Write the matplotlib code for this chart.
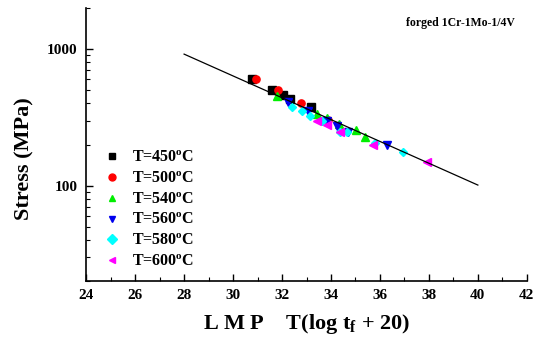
import numpy as np
import matplotlib.pyplot as plt
from matplotlib.ticker import FixedLocator, NullFormatter, MultipleLocator

plt.rcParams['font.family'] = ['Liberation Serif', 'DejaVu Serif']
plt.rcParams['font.weight'] = 'bold'
plt.rcParams['mathtext.fontset'] = 'custom'
plt.rcParams['mathtext.rm'] = 'Liberation Serif:bold'

# LMP / stress data
lmp_450 = [30.78, 31.59, 32.04, 32.33, 33.18]
s_450 = [602, 500, 459, 429, 375]
lmp_500 = [30.94, 31.84, 32.78, 33.88]
s_500 = [602, 500, 401, 301]
lmp_540 = [31.80, 33.43, 33.84, 34.33, 35.02, 35.39]
s_540 = [451, 333, 311, 281, 254, 229]
lmp_560 = [32.24, 33.06, 33.84, 34.24, 34.69, 36.29]
s_560 = [408, 350, 296, 272, 249, 200]
lmp_580 = [32.41, 32.82, 33.14, 33.63, 34.37, 34.65, 35.80, 36.94]
s_580 = [375, 350, 322, 296, 249, 249, 204, 175]
lmp_600 = [33.43, 33.84, 34.37, 35.71, 37.92]
s_600 = [296, 276, 249, 200, 150]

# fit line end points
fit_lmp = [28, 40]
fit_s = [920, 101]

series = [
    (lmp_450, s_450, 's', 'black', 'T=450$^\\mathregular{o}$C'),
    (lmp_500, s_500, 'o', 'red', 'T=500$^\\mathregular{o}$C'),
    (lmp_540, s_540, '^', '#00ee00', 'T=540$^\\mathregular{o}$C'),
    (lmp_560, s_560, 'v', '#0000ee', 'T=560$^\\mathregular{o}$C'),
    (lmp_580, s_580, 'D', '#00ffff', 'T=580$^\\mathregular{o}$C'),
    (lmp_600, s_600, '<', '#ff00ff', 'T=600$^\\mathregular{o}$C'),
]

fig = plt.figure(figsize=(5.42, 3.37), dpi=100)
ax = fig.add_axes([0.159, 0.166, 0.813, 0.81])

ax.plot(fit_lmp, fit_s, color='black', linewidth=0.9, zorder=3)

for x, y, m, c, lab in series:
    ms = 4.2 if m == 'D' else 5.2
    ax.plot(x, y, linestyle='none', marker=m, color=c, markersize=ms,
            label=lab, zorder=2)

ax.set_yscale('log')
ax.set_xlim(24, 42)
ax.set_ylim(20, 2000)
ax.xaxis.set_major_locator(MultipleLocator(2))
ax.xaxis.set_minor_locator(MultipleLocator(1))
ax.yaxis.set_major_locator(FixedLocator([100, 1000]))
ax.yaxis.set_major_formatter(plt.FuncFormatter(lambda v, p: '%d' % v))
ax.yaxis.set_minor_formatter(NullFormatter())
ax.tick_params(which='both', direction='in', labelsize=11)
ax.tick_params(which='major', length=5, width=1, pad=6)
ax.tick_params(which='minor', length=3, width=0.8)
ax.spines['top'].set_visible(False)
ax.spines['right'].set_visible(False)
for s in ['left', 'bottom']:
    ax.spines[s].set_linewidth(1.2)

ax.set_ylabel('Stress (MPa)', fontsize=16, fontweight='bold')
ax.yaxis.set_label_coords(-0.118, 0.447)
ax.set_xlabel('L M P    T(log t$_\\mathregular{f}$ + 20)', fontsize=16,
              fontweight='bold', labelpad=7)

ax.text(0.973, 0.945, 'forged 1Cr-1Mo-1/4V', transform=ax.transAxes,
        ha='right', va='center', fontsize=8.5, fontweight='bold')

leg = ax.legend(loc='lower left', bbox_to_anchor=(0.005, 0.0), frameon=False,
                fontsize=11.5, handletextpad=0.5, labelspacing=0.3,
                handlelength=1.5, borderaxespad=0.3)
for h in leg.legend_handles:
    h.set_markersize(5)

fig.savefig('out.png', dpi=100)
